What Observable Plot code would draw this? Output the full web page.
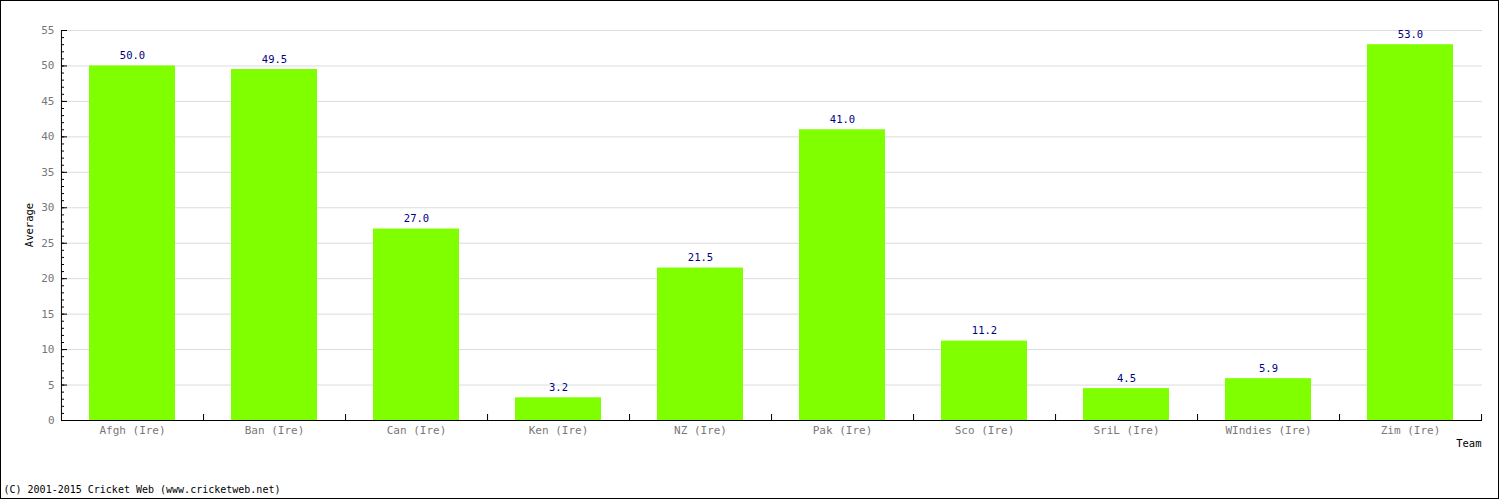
<!DOCTYPE html>
<html><head><meta charset="utf-8">
<script src="https://cdn.jsdelivr.net/npm/d3@7"></script>
<script src="https://cdn.jsdelivr.net/npm/@observablehq/plot@0.6"></script>
<style>
body{margin:0;background:#fff;}
#wrap{position:relative;width:1500px;height:500px;}
#border{position:absolute;left:0;top:0;width:1499px;height:499px;box-sizing:border-box;border:1px solid #000;pointer-events:none;}
</style></head>
<body><div id="wrap"><div id="border"></div></div>
<script>
const teams = ["Afgh (Ire)","Ban (Ire)","Can (Ire)","Ken (Ire)","NZ (Ire)","Pak (Ire)","Sco (Ire)","SriL (Ire)","WIndies (Ire)","Zim (Ire)"];
const averages = [50.0, 49.5, 27.0, 3.2, 21.5, 41.0, 11.2, 4.5, 5.9, 53.0];
const majorTicks = [0,5,10,15,20,25,30,35,40,45,50,55];
const minorTicks = d3.range(0, 56);
const yTitle = "Average";
const xTitle = "Team";
const credit = "(C) 2001-2015 Cricket Web (www.cricketweb.net)";
const data = teams.map((t,i)=>({team:t, avg:averages[i]}));
const FONT = "DejaVu Sans Mono";
const W = 1500, ML = 61, MR = 18;
const frameW = W - ML - MR;
const step = frameW / teams.length;

const chart = Plot.plot({
  width: W, height: 500,
  marginLeft: ML, marginRight: MR, marginTop: 30, marginBottom: 80,
  style: {fontFamily: FONT, fontSize: "11px", background: "transparent", overflow: "visible"},
  x: {domain: teams, paddingInner: 0.394, paddingOuter: 0.197, label: null},
  y: {domain: [0, 55], label: null},
  marks: [
    Plot.gridY(majorTicks, {stroke: "#dcdcdc", strokeOpacity: 1}),
    Plot.barY(data, {x: "team", y: "avg", fill: "#80ff00"}),
    Plot.text(data, {x: "team", y: "avg", text: d => d.avg.toFixed(1), dy: -10, fill: "#000080", fontSize: 10.5}),
    Plot.ruleY([0], {stroke: "#000"}),
    Plot.ruleX([teams[0]], {dx: -step/2, stroke: "#000"}),
    Plot.ruleY(majorTicks, {stroke: "#000", insetRight: frameW - 6}),
    Plot.ruleY(minorTicks, {stroke: "#000", insetRight: frameW - 3}),
    Plot.ruleX(teams, {dx: step/2, y1: 0, y2: 0, insetTop: -6, stroke: "#000"}),
    Plot.axisY(majorTicks, {tickSize: 0, tickPadding: 7, fill: "#777", fontSize: 11, label: null}),
    Plot.axisX({tickSize: 0, tickPadding: 6, fill: "#777", fontSize: 11, label: null}),
    Plot.text([xTitle], {frameAnchor: "bottom-right", dx: -1, dy: 26, textAnchor: "end", fill: "#000", fontSize: 10.5}),
    Plot.text([credit], {frameAnchor: "bottom-left", dx: -58, dy: 72, textAnchor: "start", fill: "#000", fontSize: 10})
  ]
});
d3.select(chart).append("text")
  .attr("transform", "translate(30,225) rotate(-90)")
  .attr("text-anchor", "middle").attr("dominant-baseline", "middle")
  .attr("font-family", FONT).attr("font-size", 10.5).attr("fill", "#000")
  .text(yTitle);
document.getElementById("wrap").prepend(chart);
</script>
</body></html>
